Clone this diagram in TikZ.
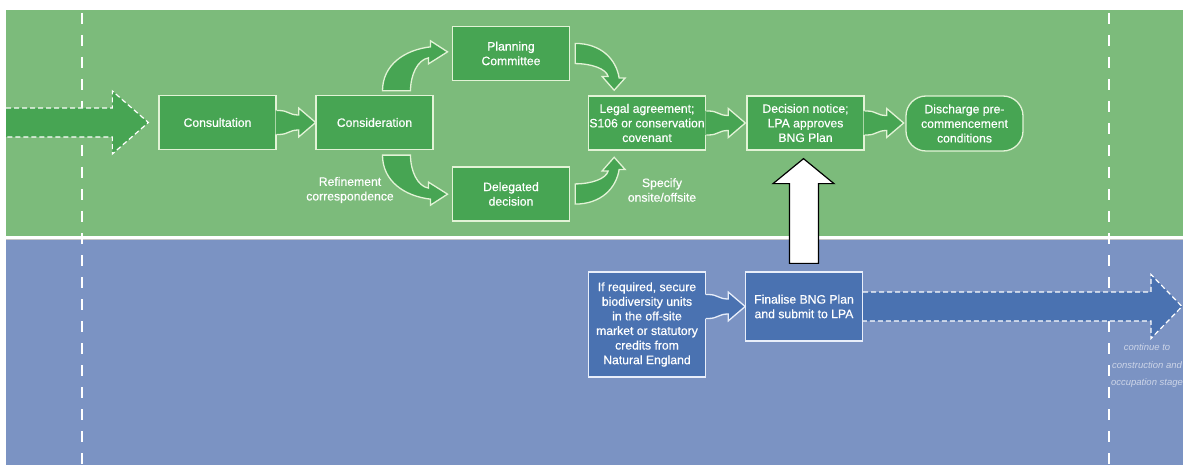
\documentclass[tikz,border=0pt]{standalone}
\usepackage{fontspec}
\setmainfont{Liberation Sans}[FakeBold=0.5]
\newfontfamily\notefont{Liberation Sans}
\usetikzlibrary{calc}

\definecolor{bandgreen}{RGB}{124,187,123}
\definecolor{boxgreen}{RGB}{71,165,83}
\definecolor{bandblue}{RGB}{123,147,195}
\definecolor{boxblue}{RGB}{74,114,177}
\definecolor{rim}{RGB}{226,243,214}
\definecolor{rimblue}{RGB}{232,238,250}
\definecolor{notegray}{RGB}{205,213,232}

\begin{document}
\begin{tikzpicture}[x=1pt, y=1pt,
      font=\fontsize{12.2}{14.6}\selectfont,
      stage/.style={draw=rim, line width=1.3pt, fill=boxgreen, text=white, align=center,
                    minimum width=117pt, minimum height=54pt, inner sep=1pt},
      bluestage/.style={stage, draw=rimblue, fill=boxblue},
      note/.style={text=white, align=center},
      greenarrow/.style={fill=boxgreen, draw=rim, line width=1.3pt},
      bluearrow/.style={fill=boxblue, draw=rimblue, line width=1.3pt},
      uparrow/.style={fill=white, draw=black, line width=1.2pt},
      dashedarrow/.style={draw=white, line width=1.2pt, dash pattern=on 5pt off 3pt},
      lanedash/.style={draw=white, line width=1.2pt, dash pattern=on 11pt off 11pt},
      pics/bendarrow/.style={code={
        \path[pic actions] (-14,0) .. controls (-14,26) and (8,41) .. (34,44) -- (34,50)
          -- (51,39) -- (32,27) -- (32,33) .. controls (21,31) and (14,16) .. (14,0) -- cycle;
      }},
      pics/steparrow/.style={code={
        \path[pic actions, draw=none] (-1,12) -- (2,12) .. controls (12,12) and (12,7.5) .. (22,7.5)
          -- (22,14.5) -- (39,0) -- (22,-14.5) -- (22,-7.5) .. controls (12,-7.5) and (12,-12) .. (2,-12)
          -- (-1,-12) -- cycle;
        \path[pic actions, fill=none] (0,12) -- (2,12) .. controls (12,12) and (12,7.5) .. (22,7.5)
          -- (22,14.5) -- (39,0) -- (22,-14.5) -- (22,-7.5) .. controls (12,-7.5) and (12,-12) .. (2,-12)
          -- (0,-12);
      }}
    ]
    \useasboundingbox (0,0) rectangle (1183,-465);
    \clip (0,0) rectangle (1183,-465);

    % Lanes
    \fill[bandgreen] (6,-10) rectangle (1183,-236);
    \fill[bandblue] (6,-239) rectangle (1183,-465);
    \draw[gray!45, line width=0.8pt] (6,-239.2) -- (1183,-239.2);
    \foreach \x in {82,1109} \draw[lanedash] (\x,-13) -- (\x,-465);

    % Steps in the application stage
    \node[stage] (cons)   at (217.5,-122.5) {Consultation};
    \node[stage] (consid) at (374.5,-122.5) {Consideration};
    \node[stage] (pc)     at (511,-53.5) {Planning\\Committee};
    \node[stage] (dd)     at (511,-194) {Delegated\\decision};
    \node[stage] (legal)  at (647,-123) {Legal agreement;\\S106 or conservation\\covenant};
    \node[stage] (dec)    at (805.5,-123) {Decision notice;\\LPA approves\\BNG Plan};
    \node[stage, rounded corners=20pt, minimum height=55pt] (disch) at (964.5,-123.5)
      {Discharge pre-\\commencement\\conditions};

    % BNG lane
    \node[bluestage, minimum height=105pt] (ifreq) at (647,-324.5)
      {If required, secure\\biodiversity units\\in the off-site\\market or statutory\\credits from\\Natural England};
    \node[bluestage, minimum height=69pt] (fin) at (804,-306.5) {Finalise BNG Plan\\and submit to LPA};

    \node[note] (refine)  at (350,-190) {Refinement\\correspondence};
    \node[note] (specify) at (662,-190) {Specify\\onsite/offsite};
    \node[note, text=notegray, font=\notefont\fontsize{9.5}{17.5}\selectfont\itshape] (cont) at (1147,-366)
      {continue to\\construction and\\occupation stage};

    % Incoming arrow from the previous stage
    \coordinate (infrom) at (6,-122.5);
    \coordinate (intip) at ($(cons.west)+(-10,0)$);
    \fill[boxgreen] ($(infrom)+(0,14.5)$) -- ($(intip)+(-36,14.5)$) -- ($(intip)+(-36,31.5)$) -- (intip)
      -- ($(intip)+(-36,-31.5)$) -- ($(intip)+(-36,-14.5)$) -- ($(infrom)+(0,-14.5)$) -- cycle;
    \draw[dashedarrow] ($(infrom)+(0,14.5)$) -- ($(intip)+(-36,14.5)$) -- ($(intip)+(-36,31.5)$) -- (intip)
      -- ($(intip)+(-36,-31.5)$) -- ($(intip)+(-36,-14.5)$) -- ($(infrom)+(0,-14.5)$);

    % Outgoing arrow to construction
    \coordinate (outtip) at (1182,-306.5);
    \fill[boxblue] ($(fin.east)+(0,14.5)$) -- ($(outtip)+(-31,14.5)$) -- ($(outtip)+(-31,32)$) -- (outtip)
      -- ($(outtip)+(-31,-32)$) -- ($(outtip)+(-31,-14.5)$) -- ($(fin.east)+(0,-14.5)$) -- cycle;
    \draw[dashedarrow] ($(fin.east)+(0,14.5)$) -- ($(outtip)+(-31,14.5)$) -- ($(outtip)+(-31,32)$) -- (outtip)
      -- ($(outtip)+(-31,-32)$) -- ($(outtip)+(-31,-14.5)$) -- ($(fin.east)+(0,-14.5)$);

    % Straight step arrows
    \pic[greenarrow] at (cons.east) {steparrow};
    \pic[greenarrow] at (legal.east) {steparrow};
    \pic[greenarrow] at (dec.east) {steparrow};
    \pic[bluearrow] at (ifreq.east |- fin.west) {steparrow};

    % Bent arrows round the two routes
    \pic[greenarrow] at ([xshift=22pt, yshift=4pt]consid.north) {bendarrow};
    \pic[greenarrow, yscale=-1] at ([xshift=22pt, yshift=-5pt]consid.south) {bendarrow};
    \pic[greenarrow, rotate=-90, xscale=0.72] at ([xshift=5pt]pc.east) {bendarrow};
    \pic[greenarrow, yscale=-1, rotate=-90, xscale=0.72] at ([xshift=5pt]dd.east) {bendarrow};

    % BNG Plan goes up to the decision
    \coordinate (upfoot) at ($(fin.north)+(0,8)$);
    \coordinate (uptip) at ($(dec.south)+(-2,-8)$);
    \draw[uparrow] ($(upfoot)+(-14.5,0)$) |- ($(uptip)+(-30.5,-25)$) -- (uptip)
      -- ($(uptip)+(30.5,-25)$) -| ($(upfoot)+(14.5,0)$) -- cycle;
  \end{tikzpicture}
\end{document}
